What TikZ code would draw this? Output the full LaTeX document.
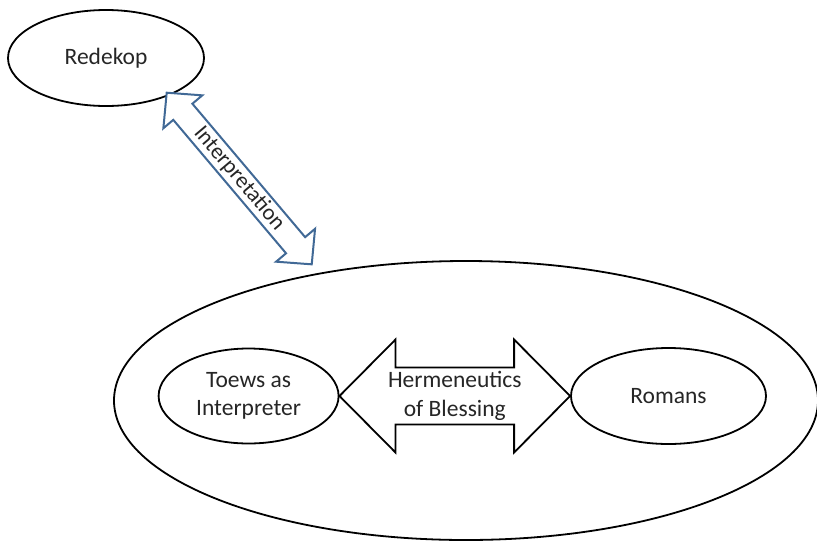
\documentclass[tikz,border=0pt]{standalone}
\usepackage{fontspec}
\setmainfont{Carlito}
\usetikzlibrary{shapes.geometric,calc}
\definecolor{txt}{RGB}{38,38,38}
\definecolor{arrowblue}{RGB}{65,105,150}
\begin{document}
\begin{tikzpicture}[x=1pt,y=-1pt,
  oval/.style={draw=black,line width=1.8pt,ellipse,inner sep=0pt,text=txt,align=center,
    font=\fontsize{23.5}{28.5}\selectfont},
  label/.style={text=txt,align=center,font=\fontsize{23.5}{28.5}\selectfont},
  blockarrow/.style={draw=black,line width=1.8pt,fill=white,line join=miter},
  bluearrow/.style={draw=arrowblue,line width=2pt,fill=white,line join=miter}]
\useasboundingbox (0,0) rectangle (817,542);
\node[oval,minimum width=196pt,minimum height=96pt] (redekop) at (106,58) {Redekop};
\node[oval,minimum width=704pt,minimum height=279pt] (world) at (466,400.5) {};
\node[oval,minimum width=180pt,minimum height=95pt] (toews) at (248.6,396) {Toews as\\Interpreter};
\node[oval,minimum width=195pt,minimum height=96pt] (romans) at (668.5,396) {Romans};
% hermeneutics double arrow
\draw[blockarrow] (toews.east) -- ++(56,-56.5) -- ++(0,28)
  -- ($(romans.west)+(-56,-28.5)$) -- ++(0,-28) -- (romans.west)
  -- ++(-56,56.5) -- ++(0,-28) -- ($(toews.east)+(56,28.5)$) -- ++(0,28) -- cycle;
\node[label] (herm) at ($(toews.east)!0.5!(romans.west)$) {Hermeneutics\\of Blessing};
% interpretation arrow
\coordinate (a1) at (166.7,92.7);
\coordinate (a2) at (311.7,264.3);
\begin{scope}[shift={(a1)},rotate=-49.8]
\draw[bluearrow] (0,0) -- (25,25.5) -- (25,12.5) -- (199.7,12.5) -- (199.7,25.5) -- (224.7,0)
  -- (199.7,-25.5) -- (199.7,-12.5) -- (25,-12.5) -- (25,-25.5) -- cycle;
\end{scope}
\node[text=txt,rotate=-49.8,font=\fontsize{22.5}{26}\selectfont] (interp) at ($(a1)!0.5!(a2)$) {Interpretation};
\end{tikzpicture}
\end{document}
